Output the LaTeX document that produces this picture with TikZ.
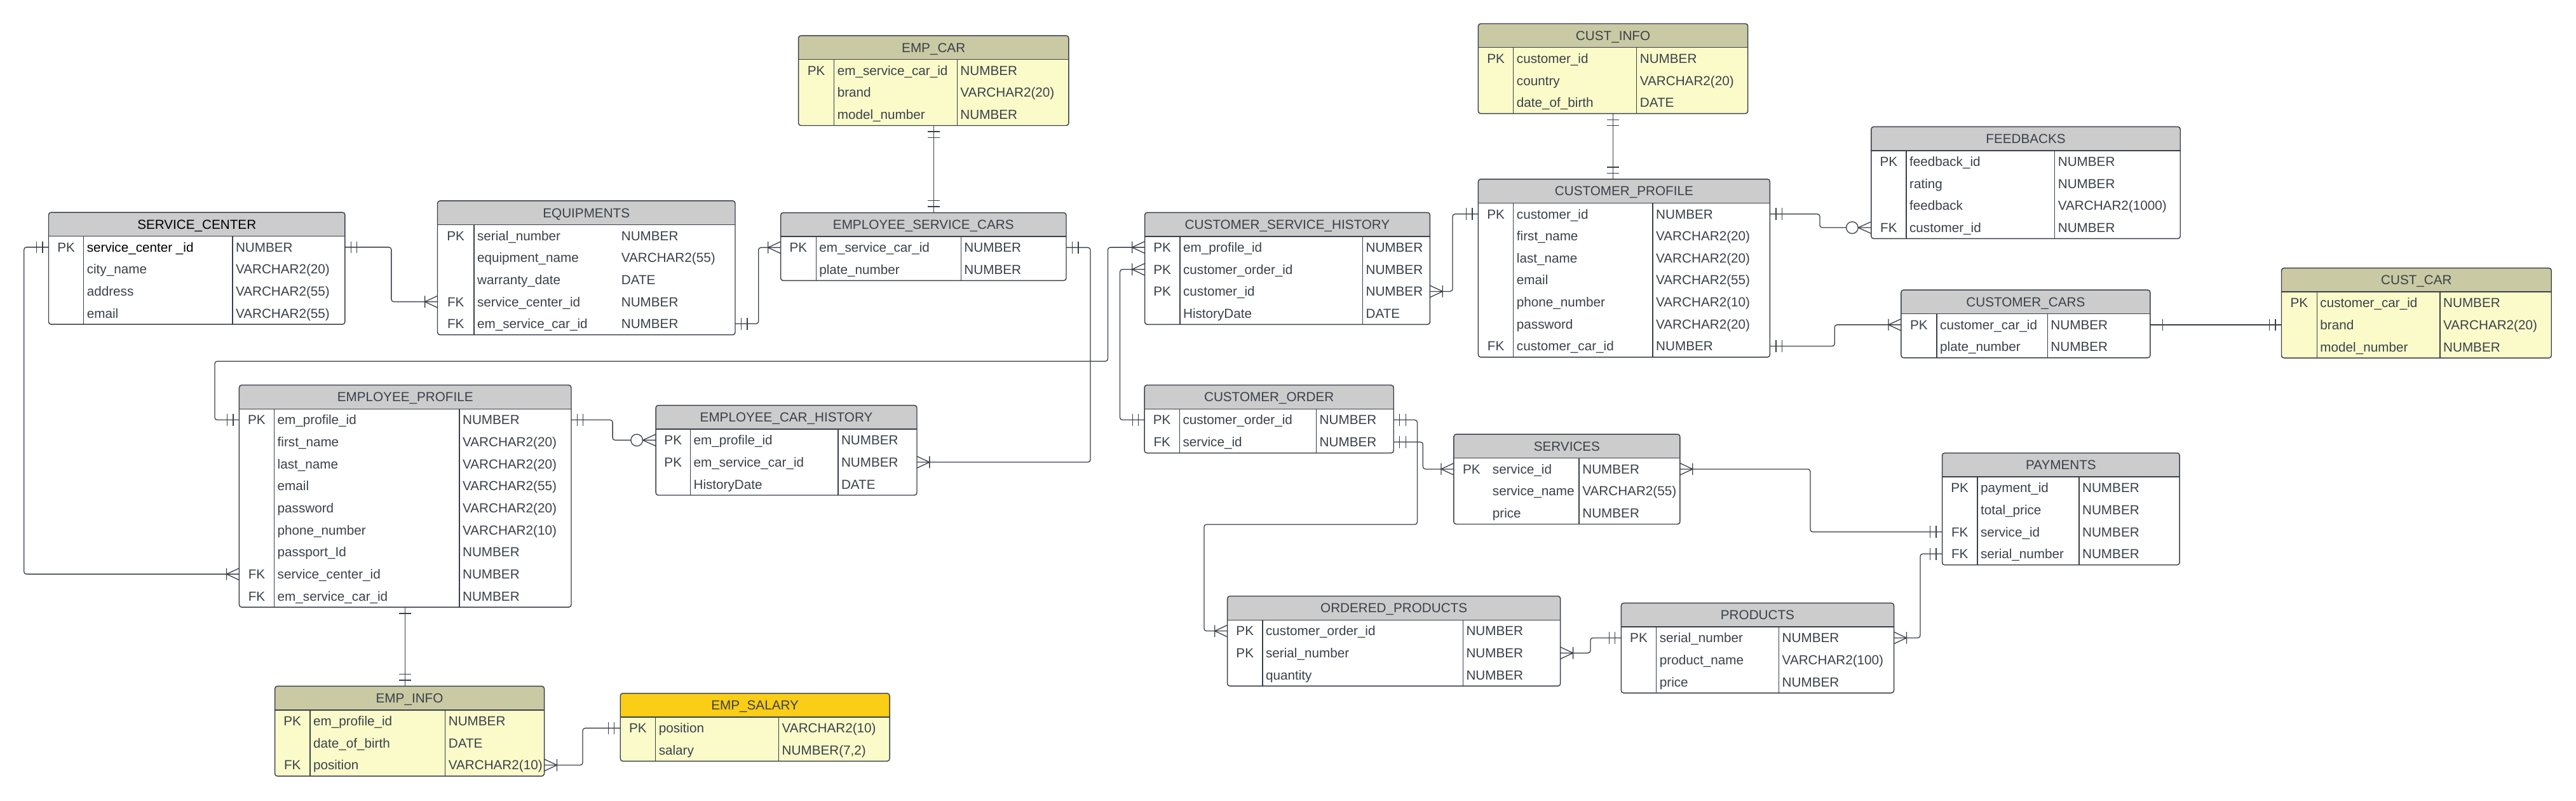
\documentclass[tikz,border=0pt]{standalone}
\usepackage{fontspec}
\setmainfont{Liberation Sans}
\usetikzlibrary{calc,fit}
\definecolor{ln}{HTML}{3A404A}
\definecolor{txt}{HTML}{3A414A}
\definecolor{hdrgray}{HTML}{CCCCCC}
\definecolor{hdrkhaki}{HTML}{C9C9A3}
\definecolor{bodyyel}{HTML}{FBFBCA}
\definecolor{hdrgold}{HTML}{FACD17}

\pgfkeys{/er/.cd,
 name/.store in=\ername, left/.store in=\erl, top/.store in=\ert, right/.store in=\err,
 pk/.store in=\erpk, type/.store in=\ertype, rows/.store in=\ern,
 hdr/.store in=\erhdr, body/.store in=\erbody, titlecol/.store in=\ertc,
 pksep/.store in=\erpksep, typesep/.store in=\ertypesep}

\tikzset{
 tline/.style={draw=ln, line width=0.55pt},
 conn/.style={draw=ln, line width=0.5pt},
 link/.style={conn, rounded corners=1.5pt},
 ertext/.style={inner sep=0pt, outer sep=0pt, text=txt, font=\fontsize{8}{9.6}\selectfont},
 ertitle/.style={ertext},
 tblnode/.style={inner sep=0pt, outer sep=0pt, rectangle}
}

\def\ernc{txt}
\newcount\errowi
\newcommand\ertbl[2][]{%
 \pgfkeys{/er/.cd, hdr=hdrgray, body=white, titlecol=txt, pksep=1, typesep=1, #1}%
 \global\errowi=0
 \pgfmathsetmacro\erhb{\ert+14.5}%
 \pgfmathsetmacro\erbt{\erhb+13.4*\ern}%
 \fill[\erbody, rounded corners=1.5pt] (\erl,\ert) rectangle (\err,\erbt);
 \fill[\erhdr, rounded corners=1.5pt] (\erl,\ert) rectangle (\err,\erhb);
 \fill[\erhdr] (\erl,{\erhb-2}) rectangle (\err,\erhb);
 \ifnum\erpksep=1 \draw[tline] (\erpk,\erhb) -- (\erpk,\erbt);\fi
 \ifnum\ertypesep=1 \draw[tline] (\ertype,\erhb) -- (\ertype,\erbt);\fi
 \draw[tline] (\erl,\erhb) -- (\err,\erhb);
 \draw[tline, rounded corners=1.5pt] (\erl,\ert) rectangle (\err,\erbt);
 \node[tblnode, fit={(\erl,\ert) (\err,\erbt)}] (\ername) {};
 \node[ertitle, anchor=base, text=\ertc] (\ername-t) at ({(\erl+\err)/2},{(\ert+\erhb)/2+2.86}) {#2};
 \foreach \i in {1,...,\ern}{%
   \coordinate (\ername-\i-l) at (\erl,{\erhb+13.4*(\i-0.5)});
   \coordinate (\ername-\i-r) at (\err,{\erhb+13.4*(\i-0.5)});
 }%
}

\newcommand\erow[3]{%
 \global\advance\errowi by 1
 \pgfmathsetmacro\ery{\erhb+13.4*(\the\errowi-0.5)+2.86}%
 \if\relax\detokenize{#1}\relax\else
  \node[ertext, anchor=base] (\ername-k\the\errowi) at ({(\erl+\erpk)/2},\ery) {#1};\fi
 \node[ertext, anchor=base west, text=\ernc] (\ername-n\the\errowi) at ({\erpk+2},\ery) {#2};
 \node[ertext, anchor=base west] (\ername-y\the\errowi) at ({\ertype+2},\ery) {#3};
}

\newcommand\mktwo[2]{\begin{scope}[shift={(#1)},rotate=#2]\draw[conn] (3.7,-3.6)--(3.7,3.6) (7.3,-3.6)--(7.3,3.6);\end{scope}}
\newcommand\mkone[3][3.8]{\begin{scope}[shift={(#2)},rotate=#3]\draw[conn] (#1,-3.6)--(#1,3.6);\end{scope}}
\newcommand\mkcrow[2]{\begin{scope}[shift={(#1)},rotate=#2]\draw[conn] (0,3.6)--(7.7,0)--(0,-3.6) (7.7,-3.6)--(7.7,3.6);\end{scope}}
\newcommand\mkzcrow[2]{\begin{scope}[shift={(#1)},rotate=#2]\draw[conn] (0,3.6)--(8,0)--(0,-3.6);\draw[conn,fill=white] (11.6,0) circle[radius=3.6pt];\end{scope}}

\begin{document}
\begin{tikzpicture}[x=1pt,y=-1pt]
\fill[white] (0,0) rectangle (1568,487);
\useasboundingbox (0,0) rectangle (1568,487);

% ---------- tables ----------
\ertbl[name=sc, left=29.6, top=129.2, right=210, pk=50.9, type=141.5, rows=4, titlecol=black]{SERVICE\_CENTER}
\def\ernc{black}
\erow{PK}{service\_center \_id}{NUMBER}
\def\ernc{txt}
\erow{}{city\_name}{VARCHAR2(20)}
\erow{}{address}{VARCHAR2(55)}
\erow{}{email}{VARCHAR2(55)}

\ertbl[name=eq, left=266.3, top=122.2, right=447.5, pk=288.5, type=376.2, typesep=0, rows=5]{EQUIPMENTS}
\erow{PK}{serial\_number}{NUMBER}
\erow{}{equipment\_name}{VARCHAR2(55)}
\erow{}{warranty\_date}{DATE}
\erow{FK}{service\_center\_id}{NUMBER}
\erow{FK}{em\_service\_car\_id}{NUMBER}

\ertbl[name=ecar, left=486.0, top=21.7, right=650.5, pk=507.7, type=582.6, rows=3, hdr=hdrkhaki, body=bodyyel]{EMP\_CAR}
\erow{PK}{em\_service\_car\_id}{NUMBER}
\erow{}{brand}{VARCHAR2(20)}
\erow{}{model\_number}{NUMBER}

\ertbl[name=esc, left=475.2, top=129.4, right=649.0, pk=496.7, type=584.9, rows=2]{EMPLOYEE\_SERVICE\_CARS}
\erow{PK}{em\_service\_car\_id}{NUMBER}
\erow{}{plate\_number}{NUMBER}

\ertbl[name=csh, left=696.8, top=129.3, right=870.4, pk=718.2, type=829.4, rows=4]{CUSTOMER\_SERVICE\_HISTORY}
\erow{PK}{em\_profile\_id}{NUMBER}
\erow{PK}{customer\_order\_id}{NUMBER}
\erow{PK}{customer\_id}{NUMBER}
\erow{}{HistoryDate}{DATE}

\ertbl[name=cinfo, left=899.8, top=14.4, right=1063.9, pk=921.2, type=996.2, rows=3, hdr=hdrkhaki, body=bodyyel]{CUST\_INFO}
\erow{PK}{customer\_id}{NUMBER}
\erow{}{country}{VARCHAR2(20)}
\erow{}{date\_of\_birth}{DATE}

\ertbl[name=cp, left=899.8, top=109.0, right=1077.3, pk=921.2, type=1006.0, rows=7]{CUSTOMER\_PROFILE}
\erow{PK}{customer\_id}{NUMBER}
\erow{}{first\_name}{VARCHAR2(20)}
\erow{}{last\_name}{VARCHAR2(20)}
\erow{}{email}{VARCHAR2(55)}
\erow{}{phone\_number}{VARCHAR2(10)}
\erow{}{password}{VARCHAR2(20)}
\erow{FK}{customer\_car\_id}{NUMBER}

\ertbl[name=fb, left=1139.0, top=77.1, right=1327.1, pk=1160.3, type=1250.7, rows=4]{FEEDBACKS}
\erow{PK}{feedback\_id}{NUMBER}
\erow{}{rating}{NUMBER}
\erow{}{feedback}{VARCHAR2(1000)}
\erow{FK}{customer\_id}{NUMBER}

\ertbl[name=cc, left=1157.2, top=176.4, right=1308.8, pk=1178.9, type=1246.3, rows=2]{CUSTOMER\_CARS}
\erow{PK}{customer\_car\_id}{NUMBER}
\erow{}{plate\_number}{NUMBER}

\ertbl[name=ccar, left=1388.7, top=163.1, right=1553.0, pk=1410.3, type=1485.2, rows=3, hdr=hdrkhaki, body=bodyyel]{CUST\_CAR}
\erow{PK}{customer\_car\_id}{NUMBER}
\erow{}{brand}{VARCHAR2(20)}
\erow{}{model\_number}{NUMBER}

\ertbl[name=ep, left=145.6, top=234.3, right=347.7, pk=166.9, type=279.6, rows=9]{EMPLOYEE\_PROFILE}
\erow{PK}{em\_profile\_id}{NUMBER}
\erow{}{first\_name}{VARCHAR2(20)}
\erow{}{last\_name}{VARCHAR2(20)}
\erow{}{email}{VARCHAR2(55)}
\erow{}{password}{VARCHAR2(20)}
\erow{}{phone\_number}{VARCHAR2(10)}
\erow{}{passport\_Id}{NUMBER}
\erow{FK}{service\_center\_id}{NUMBER}
\erow{FK}{em\_service\_car\_id}{NUMBER}

\ertbl[name=ech, left=399.2, top=246.6, right=558.1, pk=420.2, type=510.1, rows=3]{EMPLOYEE\_CAR\_HISTORY}
\erow{PK}{em\_profile\_id}{NUMBER}
\erow{PK}{em\_service\_car\_id}{NUMBER}
\erow{}{HistoryDate}{DATE}

\ertbl[name=ei, left=167.3, top=417.5, right=331.3, pk=188.7, type=271.0, rows=3, hdr=hdrkhaki, body=bodyyel]{EMP\_INFO}
\erow{PK}{em\_profile\_id}{NUMBER}
\erow{}{date\_of\_birth}{DATE}
\erow{FK}{position}{VARCHAR2(10)}

\ertbl[name=es, left=377.6, top=421.8, right=541.5, pk=399.0, type=474.0, rows=2, hdr=hdrgold, body=bodyyel]{EMP\_SALARY}
\erow{PK}{position}{VARCHAR2(10)}
\erow{}{salary}{NUMBER(7,2)}

\ertbl[name=co, left=696.6, top=234.3, right=848.3, pk=718.0, type=801.2, rows=2]{CUSTOMER\_ORDER}
\erow{PK}{customer\_order\_id}{NUMBER}
\erow{FK}{service\_id}{NUMBER}

\ertbl[name=sv, left=884.9, top=264.2, right=1022.6, pk=906.5, pksep=0, type=961.2, rows=3]{SERVICES}
\erow{PK}{service\_id}{NUMBER}
\erow{}{service\_name}{VARCHAR2(55)}
\erow{}{price}{NUMBER}

\ertbl[name=pm, left=1182.2, top=275.6, right=1326.7, pk=1203.6, type=1265.5, rows=4]{PAYMENTS}
\erow{PK}{payment\_id}{NUMBER}
\erow{}{total\_price}{NUMBER}
\erow{FK}{service\_id}{NUMBER}
\erow{FK}{serial\_number}{NUMBER}

\ertbl[name=op, left=747.1, top=362.7, right=949.8, pk=768.5, type=890.5, rows=3]{ORDERED\_PRODUCTS}
\erow{PK}{customer\_order\_id}{NUMBER}
\erow{PK}{serial\_number}{NUMBER}
\erow{}{quantity}{NUMBER}

\ertbl[name=pr, left=986.8, top=366.9, right=1152.8, pk=1008.2, type=1082.8, rows=3]{PRODUCTS}
\erow{PK}{serial\_number}{NUMBER}
\erow{}{product\_name}{VARCHAR2(100)}
\erow{}{price}{NUMBER}

% ---------- connectors ----------
\draw[link] (sc-1-l) -- ++(-15,0) |- (ep-8-l);
\draw[link] (sc-1-r) -- ++(28.2,0) |- (eq-4-l);
\draw[link] (eq-5-r) -- ++(14.2,0) |- (esc-1-l);
\coordinate (esctop) at (ecar.south |- esc.north);
\draw[link] (ecar.south) -- (esctop);
\draw[link] (esc-1-r) -- ++(14.7,0) |- (ech-2-r);
\draw[link] (ep-1-l) -- ++(-14.9,0) -- ++(0,-35.7) -| ($(csh-1-l)+(-22.5,0)$) -- (csh-1-l);
\draw[link] (csh-2-l) -- ++(-15.1,0) |- (co-1-l);
\draw[link] (csh-3-r) -- ++(13.8,0) |- (cp-1-l);
\coordinate (cptop) at (cinfo.south |- cp.north);
\draw[link] (cinfo.south) -- (cptop);
\draw[link] (cp-1-r) -- ++(30.4,0) |- (fb-4-l);
\draw[link] (cp-7-r) -- ++(39.4,0) |- (cc-1-l);
\coordinate (ccarl) at (cc-1-r -| ccar.west);
\draw[link] (cc-1-r) -- (ccarl);
\draw[link] (co-1-r) -- ++(14.4,0) -- ++(0,63.6) -| ($(op-1-l)+(-14.2,0)$) -- (op-1-l);
\draw[link] (co-2-r) -- ++(17.8,0) |- (sv-1-l);
\draw[link] (sv-1-r) -- ++(79.3,0) |- (pm-3-l);
\draw[link] (pm-4-l) -- ++(-13.4,0) |- (pr-1-r);
\draw[link] (op-2-r) -- ++(18.3,0) |- (pr-1-l);
\coordinate (eitop) at (ep.south |- ei.north);
\draw[link] (ep.south) -- (eitop);
\draw[link] (ep-1-r) -- ++(25.2,0) |- (ech-1-l);
\draw[link] (ei-3-r) -- ++(23.4,0) |- (es-1-l);

% ---------- end marks ----------
\mktwo{sc-1-l}{180} \mkcrow{ep-8-l}{180}
\mktwo{sc-1-r}{0} \mkcrow{eq-4-l}{180}
\mktwo{eq-5-r}{0} \mkcrow{esc-1-l}{180}
\mktwo{ecar.south}{-90} \mktwo{esctop}{90}
\mktwo{esc-1-r}{0} \mkcrow{ech-2-r}{0}
\mktwo{ep-1-l}{180} \mkcrow{csh-1-l}{180}
\mkcrow{csh-2-l}{180} \mktwo{co-1-l}{180}
\mkcrow{csh-3-r}{0} \mktwo{cp-1-l}{180}
\mktwo{cinfo.south}{-90} \mktwo{cptop}{90}
\mktwo{cp-1-r}{0} \mkzcrow{fb-4-l}{180}
\mktwo{cp-7-r}{0} \mkcrow{cc-1-l}{180}
\mkone[7.7]{cc-1-r}{0} \mktwo{ccarl}{180}
\mktwo{co-1-r}{0} \mkcrow{op-1-l}{180}
\mktwo{co-2-r}{0} \mkcrow{sv-1-l}{180}
\mkcrow{sv-1-r}{0} \mktwo{pm-3-l}{180}
\mktwo{pm-4-l}{180} \mkcrow{pr-1-r}{0}
\mkcrow{op-2-r}{0} \mktwo{pr-1-l}{180}
\mkone{ep.south}{-90} \mktwo{eitop}{90}
\mktwo{ep-1-r}{0} \mkzcrow{ech-1-l}{180}
\mkcrow{ei-3-r}{0} \mktwo{es-1-l}{180}
\end{tikzpicture}
\end{document}
